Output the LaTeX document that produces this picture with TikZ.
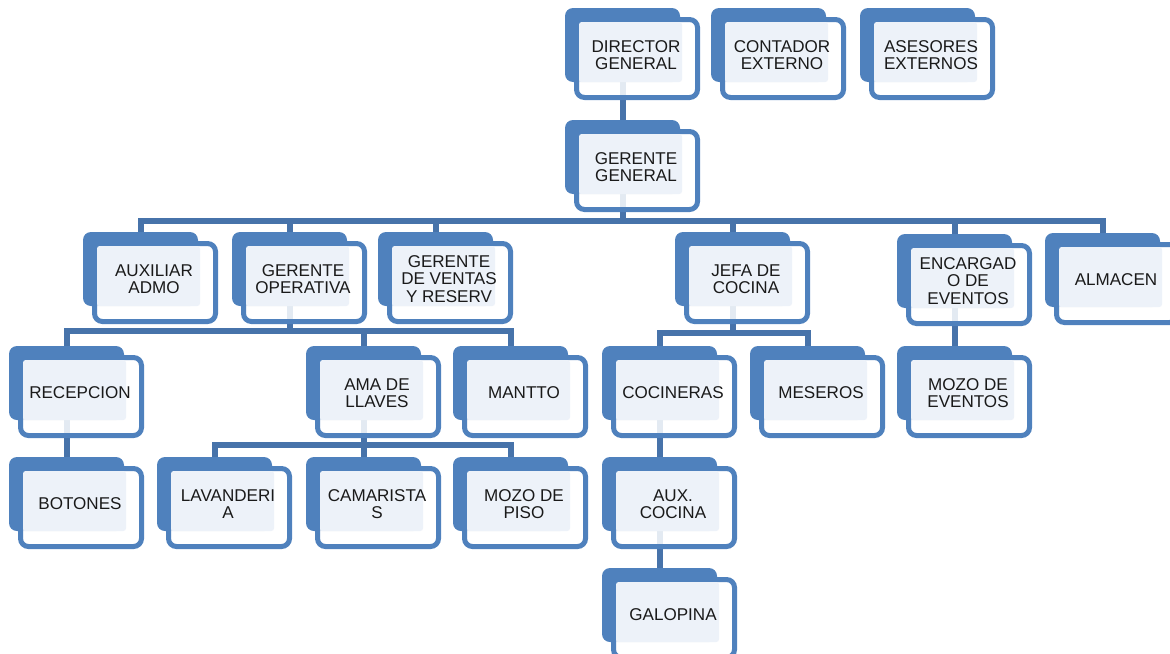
\documentclass[tikz,border=0pt]{standalone}
\usepackage{fontspec}
\setmainfont{Liberation Sans}
\usetikzlibrary{backgrounds}

\definecolor{boxblue}{HTML}{4F81BD}
\definecolor{linkblue}{HTML}{4773AA}
\definecolor{panelblue}{HTML}{EDF2F9}
\definecolor{textgray}{HTML}{1A1A1A}

\tikzset{%
    boxback/.style={fill=boxblue, rounded corners=6pt},
    boxfront/.style={draw=boxblue, line width=3.75pt, fill=white, fill opacity=0.85, rounded corners=6pt},
    boxpanel/.style={fill=panelblue, rounded corners=2pt},
    boxtext/.style={inner sep=0pt, align=center, text=textgray, font=\fontsize{12.8}{13}\selectfont},
    link/.style={draw=linkblue, line width=4.5pt},
}

% #1 name, #2 #3 top left corner of the back panel, #4 text
\newcommand{\orgbox}[4]{%
    \fill[boxback] (#2,#3) rectangle ++(115,74);
    \draw[boxfront] (#2+11.5,#3+11.5) rectangle (#2+132.5,#3+89.5);
    \fill[boxpanel] (#2+14,#3+14) rectangle (#2+117,#3+74);
    \node[boxtext] (#1) at (#2+71,#3+47) {#4};
    \coordinate (#1-top) at (#2+58,#3);
    \coordinate (#1-bot) at (#2+58,#3+74);
}

\begin{document}
\begin{tikzpicture}[x=0.75pt,y=0.75pt,yscale=-1,xscale=1]
\useasboundingbox (0,0) rectangle (1170,653);
\clip (0,0) rectangle (1170,653);

% top row
\orgbox{dg}{565}{8}{DIRECTOR\\GENERAL}
\orgbox{ce}{711}{8}{CONTADOR\\EXTERNO}
\orgbox{ae}{860}{8}{ASESORES\\EXTERNOS}
\orgbox{gg}{565}{120}{GERENTE\\GENERAL}

% second level
\orgbox{aux}{83}{232}{AUXILIAR\\ADMO}
\orgbox{gop}{232}{232}{GERENTE\\OPERATIVA}
\orgbox{gvr}{378}{232}{GERENTE\\DE VENTAS\\Y RESERV}
\orgbox{jc}{675}{232}{JEFA DE\\COCINA}
\orgbox{enc}{897}{234}{ENCARGAD\\O DE\\EVENTOS}
\orgbox{alm}{1045}{233}{ALMACEN}

% third level
\orgbox{rec}{9}{346}{RECEPCION}
\orgbox{ama}{306}{346}{AMA DE\\LLAVES}
\orgbox{man}{453}{346}{MANTTO}
\orgbox{coc}{602}{346}{COCINERAS}
\orgbox{mes}{750}{346}{MESEROS}
\orgbox{mze}{897}{346}{MOZO DE\\EVENTOS}

% fourth level
\orgbox{bot}{9}{457}{BOTONES}
\orgbox{lav}{157}{457}{LAVANDERI\\A}
\orgbox{cam}{306}{457}{CAMARISTA\\S}
\orgbox{mzp}{453}{457}{MOZO DE\\PISO}
\orgbox{axc}{602}{457}{AUX.\\COCINA}
\orgbox{gal}{602}{568}{GALOPINA}

% connectors
\begin{scope}[on background layer]
\draw[link] (dg-bot) -- (gg-top);
\foreach \c in {aux,gop,gvr,jc,enc,alm}
    \draw[link] (gg-bot) -- ++(0,27) -| (\c-top);
\foreach \c in {rec,ama,man}
    \draw[link] (gop-bot) -- ++(0,25) -| (\c-top);
\foreach \c in {coc,mes}
    \draw[link] (jc-bot) -- ++(0,27) -| (\c-top);
\foreach \c in {lav,cam,mzp}
    \draw[link] (ama-bot) -- ++(0,25) -| (\c-top);
\draw[link] (rec-bot) -- (bot-top);
\draw[link] (enc-bot) -- (mze-top);
\draw[link] (coc-bot) -- (axc-top);
\draw[link] (axc-bot) -- (gal-top);
\end{scope}

\end{tikzpicture}
\end{document}
